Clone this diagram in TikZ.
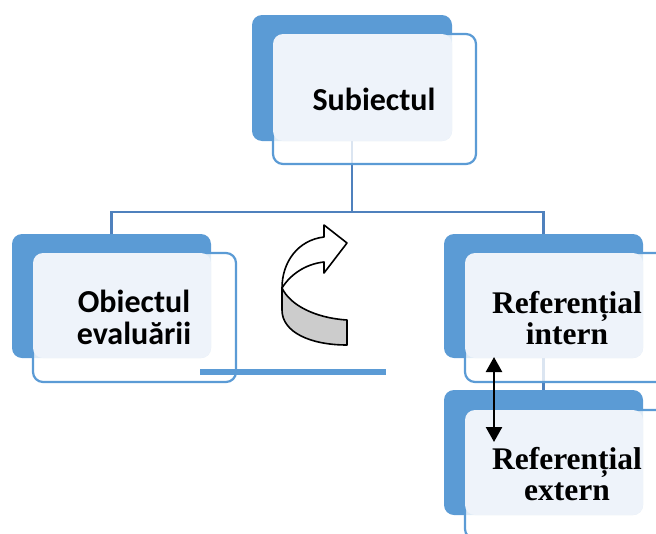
\documentclass[tikz,border=0pt]{standalone}
\usepackage{fontspec}
\setmainfont{Liberation Serif}
\newfontfamily\calib{Carlito}
\usetikzlibrary{arrows.meta}
\definecolor{sablue}{HTML}{5B9BD5}
\definecolor{salight}{HTML}{EEF3FA}
\definecolor{saline}{HTML}{4F81BD}
\tikzset{
  backbox/.style={rectangle, rounded corners=10pt, fill=sablue, draw=none, inner sep=0pt, outer sep=0pt},
  frontbox/.style={rectangle, rounded corners=10pt, fill=white, fill opacity=0.8, draw=sablue, draw opacity=1, line width=2.2pt, inner sep=0pt, outer sep=0pt},
  lightbox/.style={rectangle, rounded corners=10pt, fill=salight, draw=none, inner sep=0pt, outer sep=0pt},
  conn/.style={draw=saline, line width=2.2pt},
  calibtxt/.style={font=\calib\bfseries\fontsize{32}{32}\selectfont, align=center, inner sep=0pt},
  timestxt/.style={font=\bfseries\fontsize{31.5}{31}\selectfont, align=center, inner sep=0pt},
  bar/.style={draw=sablue, line width=6.5pt},
  dblarrow/.style={{Triangle[width=16pt,length=15pt]}-{Triangle[width=16pt,length=15pt]}, line width=2.4pt, black},
  bent/.style={draw=black, line width=1.6pt, line join=round}
}
\begin{document}
\begin{tikzpicture}[x=1pt,y=-1pt]
\useasboundingbox (0,0) rectangle (656,533);
\clip (0,0) rectangle (656,533);
% back boxes
\node[backbox, minimum width=200pt, minimum height=126pt] (subB) at (352,78) {};
\node[backbox, minimum width=199pt, minimum height=124pt] (leftB) at (111.5,296) {};
\node[backbox, minimum width=199pt, minimum height=124pt] (r1B) at (543.5,296) {};
\node[backbox, minimum width=199pt, minimum height=125pt] (r2B) at (543.5,452.5) {};
% connectors
\coordinate (bus) at (0,212);
\draw[conn] (subB.south) -- (subB.south |- bus);
\draw[conn] (leftB.north) -- (leftB.north |- bus) -- (r1B.north |- bus) -- (r1B.north);
\draw[conn] (r1B.south) -- (r2B.north);
% front boxes
\node[frontbox, minimum width=203pt, minimum height=130pt] (subF) at (374.5,99) {};
\node[frontbox, minimum width=203pt, minimum height=129pt] (leftF) at (134.5,317.5) {};
\node[frontbox, minimum width=203pt, minimum height=129pt] (r1F) at (566.5,317.5) {};
\node[frontbox, minimum width=203pt, minimum height=129pt] (r2F) at (566.5,474.5) {};
% light text areas
\node[lightbox, minimum width=179pt, minimum height=107pt] (subL) at (362.5,87.5) {};
\node[lightbox, minimum width=178pt, minimum height=105pt] (leftL) at (122,305.5) {};
\node[lightbox, minimum width=178pt, minimum height=105pt] (r1L) at (554,305.5) {};
\node[lightbox, minimum width=178pt, minimum height=105pt] (r2L) at (554,462.5) {};
% texts
\node[calibtxt] (subT) at (374,99) {Subiectul};
\node[calibtxt] (leftT) at (134,317) {Obiectul\\evaluării};
\node[timestxt] (r1T) at (567,318) {Referențial\\intern};
\node[timestxt] (r2T) at (567,474) {Referențial\\extern};
% thick bar
\coordinate (barL) at (200,372);
\coordinate (barR) at (386,372);
\draw[bar] (barL) -- (barR);
% double arrow
\coordinate (da1) at (494,357);
\coordinate (da2) at (494,442);
\draw[dblarrow] (da1) -- (da2);
% curved arrow
\filldraw[bent, fill=white] (324,237) .. controls (298,240) and (282,262) .. (282,288)
  .. controls (290,275) and (305,264) .. (324,262) -- (324,273) -- (347,243) -- (324,225) -- cycle;
\filldraw[bent, fill=black!20] (282,288) .. controls (290,305) and (315,318) .. (347,320)
  -- (347,345) .. controls (310,345) and (282,332) .. (282,310) -- cycle;
\end{tikzpicture}
\end{document}
